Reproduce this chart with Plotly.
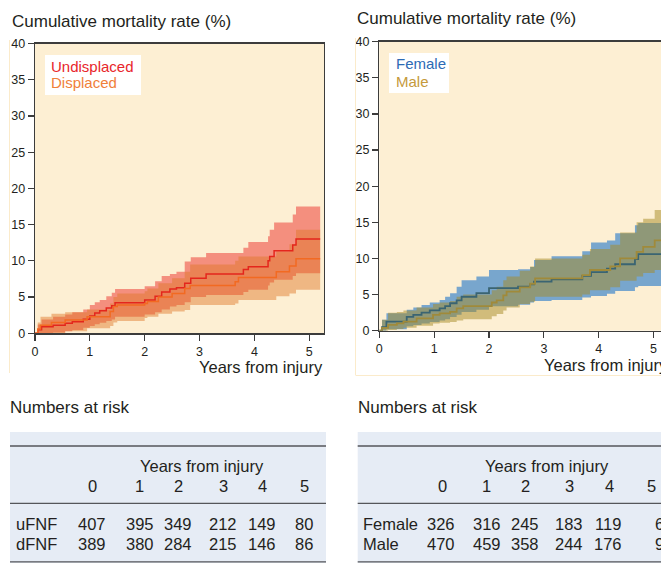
import plotly.graph_objects as go

W, H = 661, 563

# ---------------- data ----------------
# Left panel: Undisplaced vs Displaced femoral neck fractures
und_t   = [0, 0.05, 0.12, 0.33, 0.55, 0.68, 0.88, 1.0, 1.09, 1.18, 1.3, 1.4, 1.46, 2.0, 2.19, 2.31, 2.46, 2.58, 2.73, 2.84, 3.12, 3.8, 3.89, 4.25, 4.28, 4.36, 4.7, 4.76]
und_est = [0, 0.5, 0.9, 1.1, 1.4, 1.6, 1.95, 2.4, 2.8, 3.1, 3.5, 3.8, 4.2, 4.6, 5.1, 5.7, 6.1, 6.3, 6.9, 7.6, 8.2, 8.8, 9.2, 10.0, 10.6, 11.4, 12.2, 13.0]
und_hi  = [0, 1.2, 1.9, 2.3, 2.6, 2.9, 3.3, 3.9, 4.3, 4.6, 5.1, 5.6, 6.1, 6.5, 7.2, 7.9, 8.2, 8.5, 9.9, 10.5, 11.1, 11.8, 12.6, 13.4, 14.3, 15.3, 16.4, 17.5]
und_lo  = [0, 0, 0, 0.1, 0.3, 0.45, 0.75, 1.0, 1.25, 1.45, 1.7, 1.9, 2.3, 2.6, 2.9, 3.3, 3.7, 3.9, 4.3, 5.0, 5.3, 5.7, 6.0, 6.6, 7.0, 7.4, 7.9, 8.3]

dis_t   = [0, 0.05, 0.1, 0.3, 0.55, 0.95, 1.37, 1.43, 1.5, 2.0, 2.05, 2.25, 2.5, 2.73, 2.83, 3.65, 3.71, 4.4, 4.64, 4.76]
dis_est = [0, 0.6, 1.1, 1.5, 1.85, 2.3, 3.0, 3.7, 3.9, 4.1, 4.4, 5.0, 5.5, 6.2, 6.6, 7.1, 7.7, 8.5, 9.3, 10.3]
dis_hi  = [0, 1.5, 2.3, 2.7, 2.9, 3.3, 4.1, 5.0, 5.5, 5.8, 6.2, 6.9, 7.6, 8.5, 9.5, 10.0, 10.6, 11.3, 12.3, 14.3]
dis_lo  = [0, 0, 0, 0, 0.3, 0.7, 1.0, 1.5, 1.7, 2.1, 2.3, 2.7, 3.0, 3.2, 3.9, 4.1, 4.6, 5.1, 5.5, 6.0]

# Right panel: Female vs Male
fem_t   = [0, 0.05, 0.13, 0.5, 0.62, 0.77, 0.92, 1.1, 1.2, 1.29, 1.41, 1.5, 1.77, 2.0, 2.53, 2.75, 2.82, 3.14, 3.7, 3.86, 4.15, 4.3, 4.66, 4.72]
fem_est = [0, 0.5, 1.25, 1.9, 2.2, 2.5, 2.8, 3.1, 3.4, 3.8, 4.2, 4.7, 5.2, 5.9, 6.1, 6.4, 6.8, 7.1, 7.6, 8.1, 8.6, 9.2, 9.9, 10.6]
fem_hi  = [0, 1.5, 2.4, 2.9, 3.2, 3.55, 3.9, 4.25, 4.7, 5.2, 6.1, 7.0, 7.5, 8.4, 8.5, 8.8, 9.8, 10.3, 11.0, 12.2, 12.5, 13.5, 14.6, 14.9]
fem_lo  = [0, 0, 0.2, 0.6, 0.8, 1.0, 1.2, 1.4, 1.6, 1.9, 2.2, 2.6, 2.9, 3.4, 3.6, 3.9, 4.1, 4.25, 4.6, 4.8, 5.1, 5.5, 6.0, 6.2]

mal_t   = [0, 0.05, 0.16, 0.32, 0.44, 0.68, 0.98, 1.1, 1.29, 1.41, 1.53, 2.05, 2.14, 2.26, 2.32, 2.56, 2.75, 2.84, 3.7, 3.84, 4.21, 4.39, 4.69, 4.81, 5.02]
mal_est = [0, 0.4, 0.8, 1.0, 1.25, 1.7, 2.2, 2.4, 2.6, 3.1, 3.4, 3.9, 4.2, 4.9, 5.4, 6.0, 6.5, 7.25, 7.7, 8.4, 8.9, 10.0, 10.9, 11.6, 12.5]
mal_hi  = [0, 1.5, 2.5, 2.6, 2.8, 3.2, 3.7, 3.9, 4.1, 4.7, 5.0, 5.6, 6.1, 7.0, 7.5, 8.3, 8.9, 10.0, 10.5, 11.3, 11.9, 13.6, 15.0, 15.5, 16.7]
mal_lo  = [0, 0, 0.1, 0.25, 0.4, 0.7, 1.0, 1.1, 1.2, 1.4, 1.6, 2.0, 2.3, 2.8, 3.2, 3.7, 4.0, 4.7, 5.0, 5.6, 6.0, 6.9, 7.5, 8.0, 8.4]

left_end = 5.2
right_end = 5.3

years = [0, 1, 2, 3, 4, 5]
y_ticks = [0, 5, 10, 15, 20, 25, 30, 35, 40]

left_groups = ["uFNF", "dFNF"]
risk_uFNF = [407, 395, 349, 212, 149, 80]
risk_dFNF = [389, 380, 284, 215, 146, 86]
right_groups = ["Female", "Male"]
risk_female = [326, 316, 245, 183, 119, 69]
risk_male = [470, 459, 358, 244, 176, 97]

# ---------------- helpers ----------------
FONT = "Arial, 'Liberation Sans', Helvetica, sans-serif"
TXT = "#231F20"


def px(x):
    return x / W


def py(y):
    return 1 - y / H


def ext(t, v, end):
    return list(t) + [end], list(v) + [v[-1]]


fig = go.Figure()


def band(t, lo, hi, end, color, xa, ya):
    x1, l1 = ext(t, lo, end)
    x2, h2 = ext(t, hi, end)
    fig.add_trace(go.Scatter(x=x1, y=l1, mode="lines", line=dict(width=0, shape="hv"),
                             xaxis=xa, yaxis=ya, showlegend=False, hoverinfo="skip"))
    fig.add_trace(go.Scatter(x=x2, y=h2, mode="lines", line=dict(width=0, shape="hv"),
                             fill="tonexty", fillcolor=color,
                             xaxis=xa, yaxis=ya, showlegend=False, hoverinfo="skip"))


def line(t, v, end, color, xa, ya, width=1.5):
    x1, v1 = ext(t, v, end)
    fig.add_trace(go.Scatter(x=x1, y=v1, mode="lines", line=dict(width=width, shape="hv", color=color),
                             xaxis=xa, yaxis=ya, showlegend=False, hoverinfo="skip"))


# left panel
band(und_t, und_lo, und_hi, left_end, "rgba(236,48,42,0.50)", "x", "y")
band(dis_t, dis_lo, dis_hi, left_end, "rgba(222,118,38,0.46)", "x", "y")
line(und_t, und_est, left_end, "#E4261C", "x", "y")
line(dis_t, dis_est, left_end, "#F26A22", "x", "y")

# right panel
band(fem_t, fem_lo, fem_hi, right_end, "rgba(31,116,201,0.60)", "x2", "y2")
band(mal_t, mal_lo, mal_hi, right_end, "rgba(165,138,35,0.50)", "x2", "y2")
line(fem_t, fem_est, right_end, "#3A6472", "x2", "y2", 1.8)
line(mal_t, mal_est, right_end, "#A08A3A", "x2", "y2", 1.8)

axis_common = dict(showline=True, linecolor="#3C3C3C", linewidth=1.3, ticks="outside",
                   ticklen=6, tickwidth=1.2, tickcolor="#3C3C3C", showgrid=False,
                   zeroline=False, fixedrange=True, automargin=False,
                   tickfont=dict(family=FONT, size=12.5, color=TXT))

fig.update_layout(
    width=W, height=H, autosize=False,
    margin=dict(l=0, r=0, t=0, b=0, pad=0, autoexpand=False),
    paper_bgcolor="white",
    plot_bgcolor="#FDEFD3",
    showlegend=False,
    xaxis=dict(domain=[px(35), px(324)], range=[0, 5.27], anchor="y", tickvals=years,
               mirror=True, **axis_common),
    yaxis=dict(domain=[py(333.3), py(43.5)], range=[0, 40], anchor="x", tickvals=y_ticks,
               mirror=True, **axis_common),
    xaxis2=dict(domain=[px(379.3), 1.0], range=[0, 5.135], anchor="y2", tickvals=years,
                mirror=True, **axis_common),
    yaxis2=dict(domain=[py(330.7), py(41.7)], range=[0, 40], anchor="x2", tickvals=y_ticks,
                mirror=False, **axis_common),
)

shapes = []
annos = []


def text(x, y, s, size=16, color=TXT, xanchor="left", yanchor="middle"):
    annos.append(dict(x=px(x), y=py(y), xref="paper", yref="paper", text=s, showarrow=False,
                      xanchor=xanchor, yanchor=yanchor, borderpad=0, borderwidth=0,
                      font=dict(family=FONT, size=size, color=color)))


def rect(x0, y0, x1, y1, fill):
    shapes.append(dict(type="rect", xref="paper", yref="paper", x0=px(x0), x1=px(x1),
                       y0=py(y1), y1=py(y0), fillcolor=fill,
                       line=dict(width=0, color=fill), layer="above"))


def hline(x0, x1, y, color="#55565A", width=1.3):
    shapes.append(dict(type="line", xref="paper", yref="paper", x0=px(x0), x1=px(x1),
                       y0=py(y), y1=py(y), line=dict(color=color, width=width), layer="above"))


def vline(x, y0, y1, color, width=1):
    shapes.append(dict(type="line", xref="paper", yref="paper", x0=px(x), x1=px(x),
                       y0=py(y0), y1=py(y1), line=dict(color=color, width=width), layer="above"))


# faint panel borders
vline(9.5, 40, 373, "#FBEBCB")
vline(355.5, 38, 375, "#FBEBCB")
hline(355.5, 661, 375.5, color="#FBEBCB", width=1)

# titles
text(12, 22, "Cumulative mortality rate (%)", size=17)
text(356.5, 19, "Cumulative mortality rate (%)", size=17)

# axis titles
text(323, 366.5, "Years from injury", size=16.5, xanchor="right")
text(668, 364.5, "Years from injury", size=16.5, xanchor="right")

# legends
rect(45, 55, 141, 95, "white")
text(50.5, 66.5, "Undisplaced", size=15, color="#E8262B")
text(50.5, 83, "Displaced", size=15, color="#F0803A")
rect(389, 53, 449, 93, "white")
text(395.5, 63.5, "Female", size=15, color="#2D6BB5")
text(395.5, 81.5, "Male", size=15, color="#C59A3C")

# numbers-at-risk tables
TABLE_BG = "#E6ECF5"
left_cols = [92.2, 139.5, 178.5, 223.5, 262, 304]
right_hdr_cols = [442, 486.7, 525, 569.5, 609.5, 651]
right_val_cols = [441, 486.7, 525, 569, 608, 664]

for (x0, x1, title_x, center, groups, rows, hcols, vcols, lab_x) in [
    (10, 326, 10, 201.5, left_groups, [risk_uFNF, risk_dFNF], left_cols, left_cols, 15.5),
    (357.7, 661, 357.7, 546.7, right_groups, [risk_female, risk_male], right_hdr_cols, right_val_cols, 362.5),
]:
    text(title_x, 407, "Numbers at risk", size=17)
    rect(x0, 432, x1, 563, TABLE_BG)
    hline(x0, x1, 446)
    hline(x0, x1, 503.3)
    hline(x0, x1, 561.8)
    text(center, 465.5, "Years from injury", size=16.5, xanchor="center")
    for c, yv in zip(hcols, years):
        text(c, 486, str(yv), size=16.5, xanchor="center")
    for ri, (g, vals) in enumerate(zip(groups, rows)):
        yy = 523.5 if ri == 0 else 543.5
        text(lab_x, yy, g, size=16.5)
        for c, v in zip(vcols, vals):
            text(c, yy, str(v), size=16.5, xanchor="center")

fig.update_layout(shapes=shapes, annotations=annos)

PAGE_FIX = (
    "var gd=document.getElementById('{plot_id}');"
    "document.documentElement.style.margin='0';document.documentElement.style.padding='0';"
    "document.documentElement.style.overflow='hidden';"
    "document.body.style.margin='0';document.body.style.padding='0';"
    "document.body.style.overflow='hidden';"
    "gd.style.position='fixed';gd.style.left='0px';gd.style.top='0px';"
)

fig.write_html(
    "out.html",
    config={"displayModeBar": False, "staticPlot": True, "responsive": False},
    post_script=PAGE_FIX,
)
